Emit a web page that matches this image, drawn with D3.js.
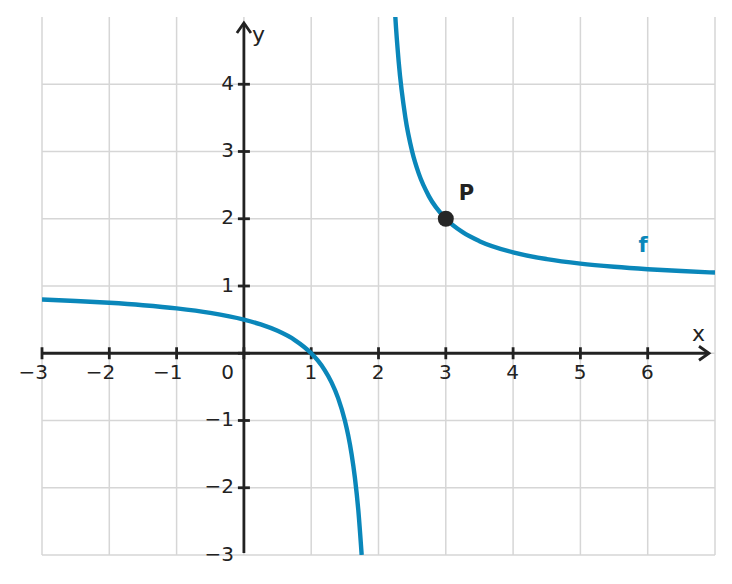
<!DOCTYPE html>
<html><head><meta charset="utf-8">
<script src="https://cdn.jsdelivr.net/npm/d3@7"></script>
<style>body{margin:0;background:#fff}svg{display:block;font-family:"DejaVu Sans",sans-serif}</style>
</head><body><svg id="c" width="732" height="584"></svg>
<script>
// Data
const xTicks = [-3,-2,-1,1,2,3,4,5,6];
const yTicks = [-3,-2,-1,1,2,3,4];
const gridX = [-3,-2,-1,0,1,2,3,4,5,6,7];
const gridY = [-3,-2,-1,0,1,2,3,4];
const leftX  = [-3,-2.5,-2,-1.5,-1,-0.5,0,0.25,0.5,0.75,1,1.1,1.2,1.3,1.4,1.5,1.55,1.6,1.65,1.7,1.75];
const leftY  = [0.8,0.778,0.75,0.714,0.667,0.6,0.5,0.429,0.333,0.2,0,-0.111,-0.25,-0.429,-0.667,-1,-1.222,-1.5,-1.857,-2.333,-3];
const rightX = [2.2,2.25,2.3,2.4,2.5,2.6,2.75,3,3.25,3.5,4,4.5,5,5.5,6,6.5,7];
const rightY = [6,5,4.333,3.5,3,2.667,2.333,2,1.8,1.667,1.5,1.4,1.333,1.286,1.25,1.222,1.2];
const pointP = {x:3, y:2, label:"P"};
const fnLabel = {x:5.93, y:1.5, label:"f"};

const svg = d3.select("#c");
const x = d3.scaleLinear().domain([-3,7]).range([42,715]);
const y = d3.scaleLinear().domain([-3,5]).range([555,17]);
const blue = "#0a87ba", dark = "#222";

svg.append("defs").append("clipPath").attr("id","clip")
  .append("rect").attr("x",42).attr("y",17).attr("width",673).attr("height",538);

const g = svg.append("g");
g.selectAll(".gx").data(gridX).join("line")
  .attr("x1",d=>x(d)).attr("x2",d=>x(d)).attr("y1",y(5)).attr("y2",y(-3))
  .attr("stroke","#d6d6d6").attr("stroke-width",1.5);
g.selectAll(".gy").data(gridY).join("line")
  .attr("y1",d=>y(d)).attr("y2",d=>y(d)).attr("x1",x(-3)).attr("x2",x(7))
  .attr("stroke","#d6d6d6").attr("stroke-width",1.5);

// axes
svg.append("line").attr("x1",x(-3)).attr("x2",x(7)-7).attr("y1",y(0)).attr("y2",y(0))
  .attr("stroke",dark).attr("stroke-width",2.8);
svg.append("line").attr("x1",x(0)).attr("x2",x(0)).attr("y1",y(-3)-2).attr("y2",y(5)+7)
  .attr("stroke",dark).attr("stroke-width",2.8);
// arrowheads
svg.append("path").attr("d",`M${x(7)-16},${y(0)-7} L${x(7)-6},${y(0)} L${x(7)-16},${y(0)+7}`)
  .attr("fill","none").attr("stroke",dark).attr("stroke-width",2.8);
svg.append("path").attr("d",`M${x(0)-7},${y(5)+16} L${x(0)},${y(5)+6} L${x(0)+7},${y(5)+16}`)
  .attr("fill","none").attr("stroke",dark).attr("stroke-width",2.8);

// ticks
svg.selectAll(".tx").data(xTicks.concat([0])).join("line")
  .attr("x1",d=>x(d)).attr("x2",d=>x(d)).attr("y1",y(0)-6).attr("y2",y(0)+6)
  .attr("stroke",dark).attr("stroke-width",2.8);
svg.selectAll(".ty").data(yTicks.filter(d=>d!==-3).concat([0])).join("line")
  .attr("y1",d=>y(d)).attr("y2",d=>y(d)).attr("x1",x(0)-6).attr("x2",x(0)+6)
  .attr("stroke",dark).attr("stroke-width",2.8);

const fmt = d => d<0 ? "\u2212"+Math.abs(d) : String(d);
svg.selectAll(".lx").data(xTicks).join("text")
  .attr("x",d=>x(d)+6).attr("y",y(0)+26).attr("text-anchor","end")
  .attr("font-size",20).attr("fill",dark).text(fmt);
svg.selectAll(".ly").data(yTicks).join("text")
  .attr("x",x(0)-10).attr("y",d=>y(d)+5.5).attr("text-anchor","end")
  .attr("font-size",20).attr("fill",dark).text(fmt);
svg.append("text").attr("x",x(0)-10).attr("y",y(0)+26).attr("text-anchor","end")
  .attr("font-size",20).attr("fill",dark).text("0");
svg.append("text").attr("x",x(0)+8).attr("y",y(5)+25).attr("font-size",22).attr("fill",dark).text("y");
svg.append("text").attr("x",x(7)-23).attr("y",y(0)-12).attr("font-size",22).attr("fill",dark).text("x");

// curves
const line = d3.line().x(d=>x(d[0])).y(d=>y(d[1])).curve(d3.curveMonotoneX);
const cg = svg.append("g").attr("clip-path","url(#clip)");
[[leftX,leftY],[rightX,rightY]].forEach(([xs,ys])=>{
  cg.append("path").attr("d",line(xs.map((v,i)=>[v,ys[i]])))
    .attr("fill","none").attr("stroke",blue).attr("stroke-width",4.4).attr("stroke-linecap","butt");
});

svg.append("circle").attr("cx",x(pointP.x)).attr("cy",y(pointP.y)).attr("r",8).attr("fill","#262626");
svg.append("text").attr("x",x(pointP.x)+13).attr("y",y(pointP.y)-19).attr("font-size",21)
  .attr("font-weight","bold").attr("fill",dark).text(pointP.label);
svg.append("text").attr("x",x(fnLabel.x)).attr("y",y(fnLabel.y)).attr("text-anchor","middle").attr("font-size",21)
  .attr("font-weight","bold").attr("fill",blue).text(fnLabel.label);
</script></body></html>
